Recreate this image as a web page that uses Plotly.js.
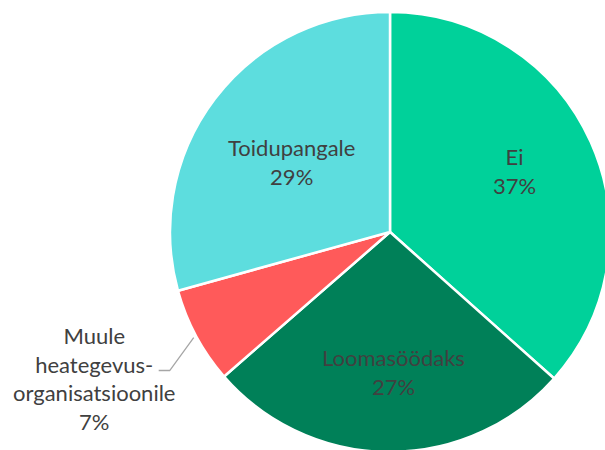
<!DOCTYPE html>
<html>
<head>
<meta charset="utf-8">
<script src="https://cdn.plot.ly/plotly-3.0.1.min.js"></script>
<style>
html,body{margin:0;padding:0;overflow:hidden;background:#fff;}
#chart{width:620px;height:460px;}
</style>
</head>
<body>
<div id="chart"></div>
<script>
const categories = ["Ei", "Loomasöödaks", "Muule<br>heategevus-<br>organisatsioonile", "Toidupangale"];
const shares = [36.6, 27.0, 7.1, 29.3];
const colors = ["#00D19A", "#008058", "#FF5A5A", "#5DDDDE"];
const labelRadius = [0.63, 0.635, null, 0.55];

const W = 620, H = 460;
const cx = 390, cy = 232, r = 220;
const px = x => x / W;
const py = y => (H - y) / H;
const TXT = "#404040";
const FONT = "Lato, sans-serif";
const FS = 22;

const trace = {
  type: "pie",
  labels: categories,
  values: shares,
  sort: false,
  direction: "clockwise",
  rotation: 0,
  marker: {colors: colors, line: {color: "#ffffff", width: 2.5}},
  textinfo: "none",
  showlegend: false,
  hoverinfo: "none",
  domain: {x: [px(cx - r), px(cx + r)], y: [py(cy + r), py(cy - r)]}
};

// label positions derived from the slice mid-angles
const total = shares.reduce((a, b) => a + b, 0);
const annotations = [];
const shapes = [];
let cum = 0;
shares.forEach((v, i) => {
  const mid = ((cum + v / 2) / total) * 360;
  cum += v;
  const text = categories[i] + "<br>" + Math.round(v / total * 100) + "%";
  if (labelRadius[i] !== null) {
    const a = (mid - 2) * Math.PI / 180;
    const d = r * labelRadius[i];
    annotations.push({
      xref: "paper", yref: "paper",
      x: px(cx + d * Math.sin(a)), y: py(cy - d * Math.cos(a)),
      xanchor: "center", yanchor: "middle",
      text: text, showarrow: false, align: "center",
      font: {family: FONT, size: FS, color: TXT}
    });
  } else {
    const a = mid * Math.PI / 180;
    const d = r * 1.013;
    const sx = cx + d * Math.sin(a), sy = cy - d * Math.cos(a);
    const ex = sx - 24, ey = sy + 33;
    shapes.push({
      type: "path", xref: "paper", yref: "paper",
      path: `M ${px(sx)} ${py(sy)} L ${px(ex)} ${py(ey)} L ${px(ex - 11)} ${py(ey)}`,
      line: {color: "#A6A6A6", width: 1.3}
    });
    annotations.push({
      xref: "paper", yref: "paper",
      x: px(ex - 76), y: py(ey + 8),
      xanchor: "center", yanchor: "middle",
      text: text, showarrow: false, align: "center",
      font: {family: FONT, size: FS, color: TXT}
    });
  }
});

const layout = {
  width: W, height: H,
  margin: {l: 0, r: 0, t: 0, b: 0},
  paper_bgcolor: "#ffffff",
  showlegend: false,
  font: {family: FONT, color: TXT},
  annotations: annotations,
  shapes: shapes
};

Plotly.newPlot("chart", [trace], layout, {staticPlot: true, displayModeBar: false});
</script>
</body>
</html>
